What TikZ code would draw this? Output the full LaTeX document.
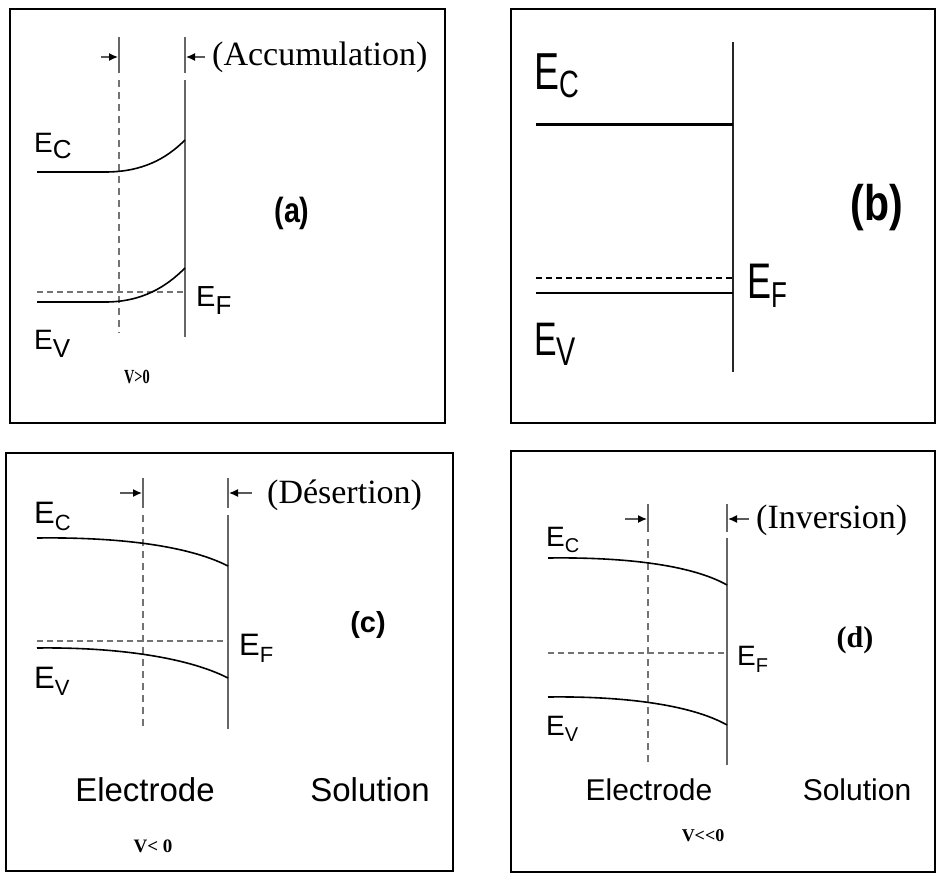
\documentclass[tikz,border=0pt]{standalone}
\usepackage{fontspec}
\setmainfont{Liberation Serif}
\newfontfamily\sansf{Liberation Sans}
\newfontfamily\sansnar[FakeStretch=0.72]{Liberation Sans}
\newfontfamily\sanslet[FakeStretch=0.82]{Liberation Sans}
\newfontfamily\serifnar[FakeStretch=0.72]{Liberation Serif}
\usetikzlibrary{arrows.meta}
\newcommand\bandE[4]{\fontsize{#1}{#1}\selectfont E\raisebox{-#3pt}{\fontsize{#2}{#2}\selectfont #4}}
\tikzset{
  frame/.style={draw=black,line width=2pt},
  band/.style={draw=black,line width=1.6pt},
  fermi/.style={draw=black!55,line width=1.3pt,dash pattern=on 6pt off 4pt},
  depth/.style={draw=black!55,line width=1.3pt,dash pattern=on 7pt off 5pt},
  wall/.style={draw=black!60,line width=1.4pt},
  tick/.style={draw=black!60,line width=1.4pt},
  marker/.style={draw=black!65,line width=1.4pt,-{Latex[length=9pt,width=8pt,black]}},
  lab/.style={anchor=base west,inner sep=0pt,font=\sansf},
  title/.style={anchor=west,inner sep=0pt,font=\fontsize{34}{34}\selectfont},
  side/.style={inner sep=0pt,font=\sansf\fontsize{#1}{#1}\selectfont}
}
\begin{document}
\begin{tikzpicture}[x=1pt,y=-1pt]
\useasboundingbox (0,0) rectangle (937,873);
\fill[white] (0,0) rectangle (937,873);

% ================= panel (a) =================
\draw[frame] (10,9) rectangle (445,423);
\coordinate (aDt) at (119,37); \coordinate (aDm) at (119,73);
\coordinate (aDs) at (119,80); \coordinate (aDb) at (119,333);
\coordinate (aWt) at (185,37); \coordinate (aWm) at (185,73);
\coordinate (aWs) at (185,80); \coordinate (aWb) at (185,337);
\draw[tick] (aDt) -- (aDm);
\draw[depth] (aDs) -- (aDb);
\draw[tick] (aWt) -- (aWm);
\draw[wall] (aWs) -- (aWb);
\coordinate (aL0) at (101,57); \coordinate (aL1) at (118,57);
\coordinate (aR0) at (205,57); \coordinate (aR1) at (186,57);
\draw[marker] (aL0) -- (aL1);
\draw[marker] (aR0) -- (aR1);
\node[title] (aT) at (212,57) {(Accumulation)};
\coordinate (aC0) at (37,172); \coordinate (aC1) at (105,172); \coordinate (aC2) at (185,140);
\coordinate (aV0) at (37,302); \coordinate (aV1) at (105,302); \coordinate (aV2) at (185,268);
\coordinate (aF0) at (37,292); \coordinate (aF1) at (185,292);
\draw[fermi] (aF0) -- (aF1);
\draw[band] (aC0) -- (aC1) .. controls (142,172) and (166,159) .. (aC2);
\draw[band] (aV0) -- (aV1) .. controls (142,302) and (166,287) .. (aV2);
\node[lab] (aEC) at (34,152) {\bandE{28}{26}{6}{C}};
\node[lab] (aEF) at (196,306) {\bandE{29}{26}{8}{F}};
\node[lab] (aEV) at (34,349) {\bandE{28}{26}{8}{V}};
\node[inner sep=0pt,font=\sanslet\bfseries\fontsize{35}{35}\selectfont] (aP) at (292,213) {(a)};
\node[inner sep=0pt,font=\serifnar\bfseries\fontsize{20}{20}\selectfont] (aU) at (137,377) {V>0};

% ================= panel (b) =================
\draw[frame] (511,9) rectangle (935,423);
\coordinate (bWt) at (733,42); \coordinate (bWb) at (733,372);
\draw[draw=black!85,line width=1.4pt] (bWt) -- (bWb);
\coordinate (bC0) at (536,124); \coordinate (bC1) at (733,124);
\coordinate (bF0) at (536,278); \coordinate (bF1) at (733,278);
\coordinate (bV0) at (536,293); \coordinate (bV1) at (733,293);
\draw[draw=black,line width=3pt] (bC0) -- (bC1);
\draw[draw=black,line width=1.4pt,dash pattern=on 6pt off 4pt] (bF0) -- (bF1);
\draw[draw=black,line width=2.2pt] (bV0) -- (bV1);
\node[lab,font=\sansnar] (bEC) at (534,89) {\bandE{52}{38}{8}{C}};
\node[lab,font=\sansnar] (bEF) at (747,298) {\bandE{50}{36}{9}{F}};
\node[lab,font=\sansnar] (bEV) at (534,355) {\bandE{47}{40}{10}{V}};
\node[inner sep=0pt,font=\sanslet\bfseries\fontsize{50}{50}\selectfont] (bP) at (877,208) {(b)};

% ================= panel (c) =================
\draw[frame] (6,453) rectangle (453,871);
\coordinate (cDt) at (143,478); \coordinate (cDm) at (143,508);
\coordinate (cDs) at (143,515); \coordinate (cDb) at (143,727);
\coordinate (cWt) at (228,478); \coordinate (cWm) at (228,508);
\coordinate (cWs) at (228,515); \coordinate (cWb) at (228,729);
\draw[tick] (cDt) -- (cDm);
\draw[depth] (cDs) -- (cDb);
\draw[tick] (cWt) -- (cWm);
\draw[wall] (cWs) -- (cWb);
\coordinate (cL0) at (120,493); \coordinate (cL1) at (142,493);
\coordinate (cR0) at (252,493); \coordinate (cR1) at (229,493);
\draw[marker] (cL0) -- (cL1);
\draw[marker] (cR0) -- (cR1);
\node[title] (cT) at (267,495) {(Désertion)};
\coordinate (cC0) at (37,538); \coordinate (cC1) at (228,566);
\coordinate (cV0) at (37,648); \coordinate (cV1) at (228,678);
\coordinate (cF0) at (37,641); \coordinate (cF1) at (228,641);
\draw[fermi] (cF0) -- (cF1);
\draw[band] (cC0) .. controls (110,537) and (185,544) .. (cC1);
\draw[band] (cV0) .. controls (110,647) and (185,656) .. (cV1);
\node[lab] (cEC) at (34,523) {\bandE{31}{22}{7}{C}};
\node[lab] (cEF) at (239,655) {\bandE{31}{22}{7}{F}};
\node[lab] (cEV) at (34,688) {\bandE{31}{22}{7}{V}};
\node[inner sep=0pt,font=\sansf\bfseries\fontsize{29}{29}\selectfont] (cP) at (368,625) {(c)};
\node[side=33] (cE) at (145,790) {Electrode};
\node[side=33] (cS) at (370,790) {Solution};
\node[inner sep=0pt,font=\bfseries\fontsize{19}{19}\selectfont] (cU) at (153,846) {V< 0};

% ================= panel (d) =================
\draw[frame] (511,451) rectangle (935,872);
\coordinate (dDt) at (648,504); \coordinate (dDm) at (648,532);
\coordinate (dDs) at (648,539); \coordinate (dDb) at (648,763);
\coordinate (dWt) at (727,504); \coordinate (dWm) at (727,532);
\coordinate (dWs) at (727,538); \coordinate (dWb) at (727,765);
\draw[tick] (dDt) -- (dDm);
\draw[depth] (dDs) -- (dDb);
\draw[tick] (dWt) -- (dWm);
\draw[wall] (dWs) -- (dWb);
\coordinate (dL0) at (625,519); \coordinate (dL1) at (647,519);
\coordinate (dR0) at (749,519); \coordinate (dR1) at (728,519);
\draw[marker] (dL0) -- (dL1);
\draw[marker] (dR0) -- (dR1);
\node[title] (dT) at (756,520) {(Inversion)};
\coordinate (dC0) at (548,558); \coordinate (dC1) at (727,585);
\coordinate (dV0) at (548,697); \coordinate (dV1) at (727,725);
\coordinate (dF0) at (548,653); \coordinate (dF1) at (727,653);
\draw[fermi] (dF0) -- (dF1);
\draw[band] (dC0) .. controls (620,557) and (690,564) .. (dC1);
\draw[band] (dV0) .. controls (620,696) and (690,704) .. (dV1);
\node[lab] (dEC) at (546,546) {\bandE{28}{20}{6}{C}};
\node[lab] (dEF) at (737,665) {\bandE{28}{20}{7}{F}};
\node[lab] (dEV) at (546,735) {\bandE{28}{20}{6}{V}};
\node[inner sep=0pt,font=\bfseries\fontsize{30}{30}\selectfont] (dP) at (855,640) {(d)};
\node[side=30] (dE) at (649,790) {Electrode};
\node[side=30] (dS) at (857,790) {Solution};
\node[inner sep=0pt,font=\bfseries\fontsize{18}{18}\selectfont] (dU) at (703,836) {V<\kern0pt<\kern0pt0};
\end{tikzpicture}
\end{document}
